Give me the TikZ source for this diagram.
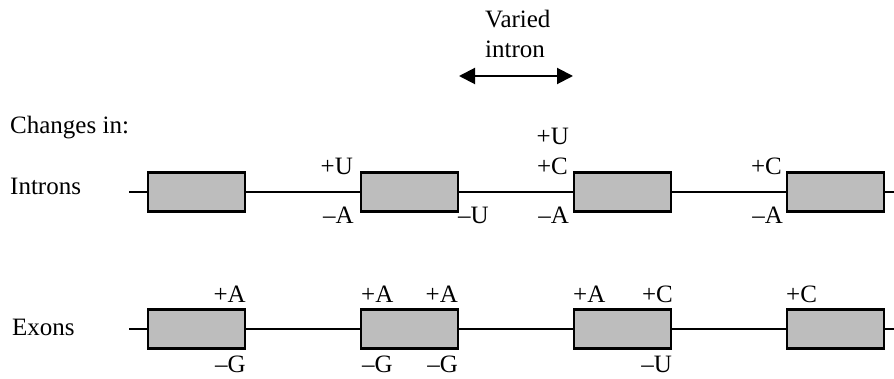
\documentclass[tikz,border=0pt]{standalone}
\usepackage{fontspec}
\setmainfont{Liberation Serif}
\usetikzlibrary{arrows.meta}
\definecolor{boxgray}{HTML}{BDBDBD}
\tikzset{
  lbl/.style={inner sep=0pt, font=\fontsize{25}{29}\selectfont},
  exonbox/.style={draw, fill=boxgray, line width=2.6pt, rectangle,
    minimum width=97pt, minimum height=39pt, inner sep=0pt},
  strand/.style={line width=2pt},
}
\begin{document}
\begin{tikzpicture}[x=1pt, y=-1pt]
\useasboundingbox (0,0) rectangle (894,379);

% heading and arrow
\node[lbl, anchor=base west] (var1) at (485,28) {Varied};
\node[lbl, anchor=base west] (var2) at (485,58) {intron};
\coordinate (arrL) at (459,76);
\coordinate (arrR) at (573,76);
\draw[line width=2pt, {Triangle[length=16pt,width=16pt]}-{Triangle[length=16pt,width=16pt]}] (arrL) -- (arrR);

% row labels
\node[lbl, anchor=base west] (chg) at (10,134) {Changes in:};
\node[lbl, anchor=base west] (intr) at (10,195) {Introns};
\node[lbl, anchor=base west] (exn) at (12,335) {Exons};

% introns row
\coordinate (iS) at (129,192);
\coordinate (iE) at (894,192);
\draw[strand] (iS) -- (iE);
\node[exonbox] (i1) at (196.5,192) {};
\node[exonbox] (i2) at (409.5,192) {};
\node[exonbox] (i3) at (622.5,192) {};
\node[exonbox] (i4) at (835.5,192) {};

\node[lbl, anchor=base east] (iU2) at (353,175) {+U};
\node[lbl, anchor=base east] (iA2) at (354,224) {--A};
\node[lbl, anchor=base west] (iU2r) at (458,224) {--U};
\node[lbl, anchor=base east] (iU3) at (569,145) {+U};
\node[lbl, anchor=base east] (iC3) at (568,175) {+C};
\node[lbl, anchor=base east] (iA3) at (569,224) {--A};
\node[lbl, anchor=base east] (iC4) at (782,175) {+C};
\node[lbl, anchor=base east] (iA4) at (783,224) {--A};

% exons row
\coordinate (eS) at (129,329);
\coordinate (eE) at (894,329);
\draw[strand] (eS) -- (eE);
\node[exonbox] (e1) at (196.5,329) {};
\node[exonbox] (e2) at (409.5,329) {};
\node[exonbox] (e3) at (622.5,329) {};
\node[exonbox] (e4) at (835.5,329) {};

\node[lbl, anchor=base east] (eA1) at (246,302) {+A};
\node[lbl, anchor=base east] (eG1) at (246,372) {--G};
\node[lbl, anchor=base west] (eA2l) at (361,302) {+A};
\node[lbl, anchor=base east] (eA2r) at (458,302) {+A};
\node[lbl, anchor=base west] (eG2l) at (362,372) {--G};
\node[lbl, anchor=base east] (eG2r) at (458,372) {--G};
\node[lbl, anchor=base west] (eA3) at (573,302) {+A};
\node[lbl, anchor=base east] (eC3) at (673,302) {+C};
\node[lbl, anchor=base east] (eU3) at (672,372) {--U};
\node[lbl, anchor=base west] (eC4) at (786,302) {+C};
\end{tikzpicture}
\end{document}
